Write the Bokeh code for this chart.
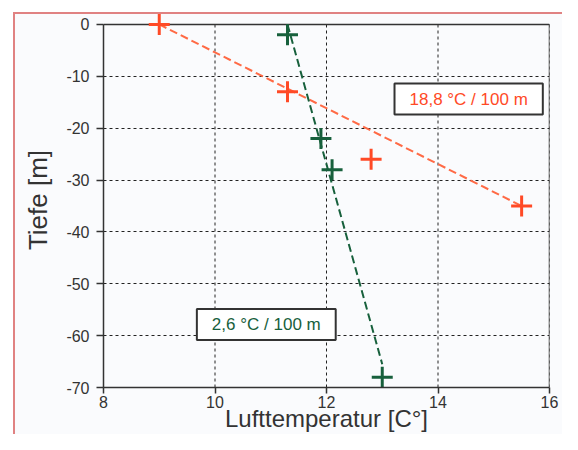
from bokeh.plotting import figure
from bokeh.models import Range1d, FixedTicker, Label
from bokeh.embed import file_html
from bokeh.resources import INLINE

# Data
red_temp = [9.0, 11.3, 12.8, 15.5]
red_depth = [0, -13, -26, -35]
red_trend_temp = [9.0, 15.5]
red_trend_depth = [0, -35]

green_temp = [11.3, 11.9, 12.1, 13.0]
green_depth = [-2, -22, -28, -68]
green_trend_temp = [11.3, 13.0]
green_trend_depth = [0, -65.5]

x_min, x_max = 8, 16
y_min, y_max = -70, 0
x_ticks = [8, 10, 12, 14, 16]
y_ticks = [0, -10, -20, -30, -40, -50, -60, -70]
y_tick_labels = ["0", "-10", "-20", "-30", "-40", "-50", "-60", "-70"]

x_title = "Lufttemperatur [C°]"
y_title = "Tiefe [m]"
red_label = "18,8 °C / 100 m"
green_label = "2,6 °C / 100 m"

RED = "#ff4a26"
RED_LINE = "#ff6a45"
GREEN = "#17603c"
DARK = "#333333"
BG = "#fafbfd"
FONT = "Liberation Sans"

# a little headroom above 0 so the marker at the top edge is not cut
p = figure(width=562, height=434, output_backend="svg", toolbar_location=None,
           x_range=Range1d(x_min, x_max), y_range=Range1d(y_min, 2.3),
           min_border_left=103, min_border_right=13, min_border_top=12, min_border_bottom=47,
           background_fill_color=None, border_fill_color=None,
           outline_line_color=None,
           styles={"background-color": BG,
                   "box-shadow": "inset 13px 12px 0 0 #ffffff, inset 15px 14px 0 0 #e08282"})

for ax in (p.xaxis[0], p.yaxis[0]):
    ax.axis_line_color = DARK
    ax.axis_line_width = 1.5
    ax.major_tick_line_color = DARK
    ax.major_tick_line_width = 1.5
    ax.major_tick_in = 0
    ax.minor_tick_line_color = None
    ax.major_label_text_font = FONT
    ax.major_label_text_font_size = "16px"
    ax.major_label_text_color = DARK
    ax.axis_label_text_font = FONT
    ax.axis_label_text_font_style = "normal"
    ax.axis_label_text_color = DARK

p.yaxis.bounds = (y_min, y_max)
p.yaxis.major_tick_out = 7
p.yaxis.major_label_standoff = 7
p.xaxis.major_tick_out = 6
p.xaxis.major_label_standoff = 2

p.xaxis.ticker = FixedTicker(ticks=x_ticks)
p.yaxis.ticker = FixedTicker(ticks=y_ticks)
p.yaxis.major_label_overrides = {t: s for t, s in zip(y_ticks, y_tick_labels)}

p.yaxis.axis_label = y_title
p.yaxis.axis_label_text_font_size = "26px"
p.yaxis.axis_label_standoff = 10

p.xaxis.axis_label = x_title
p.xaxis.axis_label_text_font_size = "24px"
p.xaxis.axis_label_standoff = -6

# horizontal grid from the axis; vertical grid drawn only over the data range
p.xgrid.grid_line_color = None
p.ygrid.grid_line_color = "#222222"
p.ygrid.grid_line_dash = "3 3"
p.ygrid.grid_line_width = 1
p.segment(x0=x_ticks, y0=[y_min] * len(x_ticks), x1=x_ticks, y1=[y_max] * len(x_ticks),
          line_color="#222222", line_dash="3 3", line_width=1)

# frame top and right edges
p.segment(x0=[x_min, x_max], y0=[y_max, y_min], x1=[x_max, x_max], y1=[y_max, y_max],
          line_color=DARK, line_width=1.5)

p.line(red_trend_temp, red_trend_depth, line_color=RED_LINE, line_width=2, line_dash="8 4")
p.line(green_trend_temp, green_trend_depth, line_color=GREEN, line_width=2, line_dash="8 4")
p.scatter(red_temp, red_depth, marker="cross", size=21, line_color=RED, line_width=3)
p.scatter(green_temp, green_depth, marker="cross", size=21, line_color=GREEN, line_width=3)

pad = dict(left=15, right=15, top=6, bottom=6)
p.add_layout(Label(x=14.55, y=-14.4, text=red_label, text_color=RED, text_font=FONT,
                   text_font_size="17px", text_align="center", text_baseline="middle",
                   background_fill_color="white", border_line_color=DARK, border_line_width=2,
                   padding=pad))
p.add_layout(Label(x=10.92, y=-57.85, text=green_label, text_color=GREEN, text_font=FONT,
                   text_font_size="17px", text_align="center", text_baseline="middle",
                   background_fill_color="white", border_line_color=DARK, border_line_width=2,
                   padding=pad))

open("out.html", "w").write(file_html(p, INLINE))
